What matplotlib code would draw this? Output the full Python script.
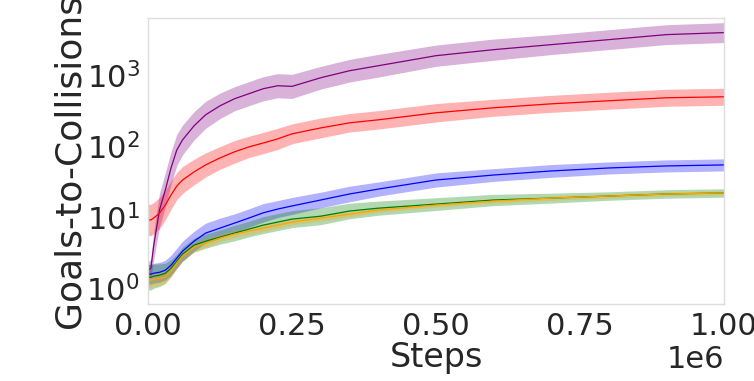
import numpy as np
import matplotlib
matplotlib.use("Agg")
import matplotlib.pyplot as plt

steps = [0, 0.005, 0.01, 0.02, 0.03, 0.04, 0.05, 0.06, 0.08, 0.1, 0.125, 0.15, 0.175,
         0.2, 0.225, 0.25, 0.3, 0.35, 0.4, 0.5, 0.6, 0.7, 0.8, 0.9, 1.0]

purple_mean = [1.80, 1.92, 4.06, 12.7, 24.3, 49.8, 89.5, 124, 196, 280, 375, 471, 555,
               653, 720, 705, 934, 1173, 1380, 1911, 2324, 2735, 3220, 3788, 4045]
red_mean = [9.2, 9.2, 9.8, 11.5, 14.9, 20.7, 27.7, 33.7, 43.8, 55, 69, 84, 98.7,
            112, 128, 151, 183, 216, 238, 299, 352, 400, 442, 487, 503]
blue_mean = [1.58, 1.58, 1.63, 1.68, 1.80, 2.12, 2.66, 3.34, 4.62, 6.0, 7.06, 8.3, 9.78,
             11.6, 13.1, 14.5, 17.6, 21.4, 25.1, 33.7, 39.6, 45.2, 49.8, 53.2, 55]
green_mean = [1.43, 1.43, 1.48, 1.53, 1.63, 1.92, 2.41, 3.03, 4.06, 4.62, 5.27, 6.0, 6.83,
              7.78, 8.58, 9.46, 10.4, 12.3, 13.5, 15.4, 17.6, 18.7, 20.0, 21.4, 22.1]
orange_mean = [1.30, 1.30, 1.34, 1.38, 1.43, 1.74, 2.26, 2.84, 3.80, 4.33, 5.10, 5.80, 6.40,
               7.06, 7.78, 8.58, 9.78, 11.1, 12.7, 14.9, 17.0, 18.7, 20.0, 21.4, 22.1]

# half-width of the shaded band, in decades
purple_spread = [0.11, 0.13, 0.20, 0.24, 0.24, 0.23, 0.22, 0.21, 0.20, 0.19, 0.18, 0.17, 0.17,
                 0.17, 0.17, 0.17, 0.16, 0.16, 0.16, 0.15, 0.15, 0.14, 0.14, 0.14, 0.14]
red_spread = [0.22, 0.22, 0.22, 0.22, 0.21, 0.20, 0.19, 0.19, 0.18, 0.17, 0.16, 0.16, 0.15,
              0.15, 0.15, 0.14, 0.14, 0.13, 0.13, 0.13, 0.12, 0.12, 0.12, 0.12, 0.12]
blue_spread = [0.14, 0.14, 0.14, 0.14, 0.14, 0.14, 0.14, 0.14, 0.14, 0.14, 0.14, 0.13, 0.13,
               0.13, 0.12, 0.12, 0.11, 0.11, 0.10, 0.10, 0.09, 0.09, 0.085, 0.085, 0.085]
green_spread = [0.18, 0.18, 0.17, 0.16, 0.14, 0.12, 0.10, 0.10, 0.10, 0.10, 0.10, 0.11, 0.11,
                0.12, 0.12, 0.12, 0.12, 0.11, 0.10, 0.09, 0.08, 0.07, 0.06, 0.06, 0.06]
orange_spread = [0.10, 0.10, 0.10, 0.10, 0.09, 0.08, 0.07, 0.07, 0.06, 0.06, 0.05, 0.05, 0.05,
                 0.05, 0.04, 0.04, 0.04, 0.04, 0.03, 0.03, 0.03, 0.03, 0.03, 0.03, 0.03]

series = [
    (purple_mean, purple_spread, "purple"),
    (red_mean, red_spread, "red"),
    (blue_mean, blue_spread, "blue"),
    (green_mean, green_spread, "green"),
    (orange_mean, orange_spread, "orange"),
]

x_label = "Steps"
y_label = "Goals-to-Collisions"
xticks = [0, 0.25e6, 0.5e6, 0.75e6, 1.0e6]

plt.rcParams['font.family'] = ['DejaVu Sans']
text_color = "#262626"

fig = plt.figure(figsize=(7.54, 3.81), dpi=100)
ax = fig.add_axes([148/754, 77/381, 576/754, 286/381])

x = np.array(steps) * 1e6
for mean, spread, color in series:
    m = np.array(mean)
    s = np.array(spread)
    lo = m / 10**s
    hi = m * 10**s
    ax.fill_between(x, lo, hi, color=color, alpha=0.3, linewidth=0)
    ax.plot(x, m, color=color, linewidth=0.9)

ax.set_yscale("log")
ax.set_xlim(0, 1e6)
ax.set_ylim(0.6, 6500)
ax.set_xticks(xticks)
ax.ticklabel_format(axis="x", style="sci", scilimits=(0, 0))
ax.tick_params(axis="both", which="both", length=0, labelsize=22, colors=text_color, pad=6)
ax.yaxis.set_minor_locator(matplotlib.ticker.NullLocator())
ax.xaxis.get_offset_text().set_fontsize(22)
ax.xaxis.get_offset_text().set_color(text_color)
ax.set_xlabel(x_label, fontsize=24, color=text_color, labelpad=0)
ax.set_ylabel(y_label, fontsize=26, color=text_color, labelpad=0)
for sp in ax.spines.values():
    sp.set_color("#dddddd")
    sp.set_linewidth(1.0)
ax.grid(False)

fig.savefig("out.png", dpi=100)
